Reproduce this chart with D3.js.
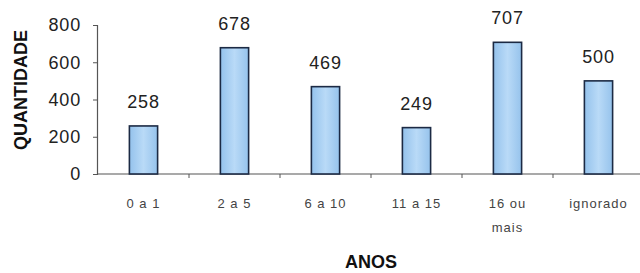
<!DOCTYPE html>
<html><head><meta charset="utf-8">
<script src="https://cdn.jsdelivr.net/npm/d3@7"></script>
<style>body{margin:0;background:#fff;}svg{display:block;font-family:"Liberation Sans",Arial,sans-serif;}</style>
</head><body>
<script>
const categories = ["0 a 1", "2 a 5", "6 a 10", "11 a 15", "16 ou mais", "ignorado"];
const values = [258, 678, 469, 249, 707, 500];
const yTicks = [0, 200, 400, 600, 800];

const W = 640, H = 273;
const svg = d3.select("body").append("svg").attr("width", W).attr("height", H);
const defs = svg.append("defs");
const g = defs.append("linearGradient").attr("id", "bg").attr("x1", 0).attr("x2", 1).attr("y1", 0).attr("y2", 0);
g.append("stop").attr("offset", "0%").attr("stop-color", "#94c2ec");
g.append("stop").attr("offset", "50%").attr("stop-color", "#b9daf7");
g.append("stop").attr("offset", "100%").attr("stop-color", "#96c3ec");

const x = d3.scaleBand().domain(categories).range([98, 644]).paddingInner(0.69).paddingOuter(0.345);
const y = d3.scaleLinear().domain([0, 800]).range([174, 25]);

// y axis
const ya = svg.append("g").attr("transform", "translate(97,0)")
  .call(d3.axisLeft(y).tickValues(yTicks).tickSize(4).tickPadding(12));
ya.select(".domain").attr("stroke", "#555").attr("stroke-width", 1.2);
ya.selectAll(".tick line").attr("stroke", "#555");
ya.selectAll(".tick text").attr("font-size", 18).attr("fill", "#222").attr("letter-spacing", 0.8)
  .attr("font-family", "'Liberation Sans',Arial,sans-serif");

// x axis
const step = x.step();
const xa = svg.append("g").attr("transform", "translate(0,174)");
xa.append("line").attr("x1", 97).attr("x2", 640).attr("y1", 0).attr("y2", 0).attr("stroke", "#555").attr("stroke-width", 1.2);
xa.selectAll("line.tk").data(categories.slice(1)).enter().append("line").attr("class", "tk")
  .attr("x1", d => x(d) - step * x.paddingInner() / 2).attr("x2", d => x(d) - step * x.paddingInner() / 2)
  .attr("y1", 0).attr("y2", 4).attr("stroke", "#555");

const labelLines = d => d === "16 ou mais" ? ["16 ou", "mais"] : [d];
xa.selectAll("text.cl").data(categories).enter().append("text").attr("class", "cl")
  .attr("text-anchor", "middle").attr("font-size", 13).attr("fill", "#444").attr("letter-spacing", 1)
  .attr("x", d => x(d) + x.bandwidth() / 2)
  .each(function (d) {
    const t = d3.select(this);
    labelLines(d).forEach((ln, i) => t.append("tspan").attr("x", x(d) + x.bandwidth() / 2).attr("y", 34 + i * 24).text(ln));
  });

// bars
svg.selectAll("rect.bar").data(values).enter().append("rect").attr("class", "bar")
  .attr("x", (d, i) => x(categories[i]))
  .attr("width", x.bandwidth())
  .attr("y", d => y(d))
  .attr("height", d => y(0) - y(d))
  .attr("fill", "url(#bg)").attr("stroke", "#1c2a44").attr("stroke-width", 1.6);

// value labels
svg.selectAll("text.val").data(values).enter().append("text").attr("class", "val")
  .attr("x", (d, i) => x(categories[i]) + x.bandwidth() / 2)
  .attr("y", d => y(d) - 18)
  .attr("text-anchor", "middle").attr("font-size", 18).attr("letter-spacing", 0.8).attr("fill", "#222").text(d => d);

// axis titles
svg.append("text").attr("x", 371).attr("y", 268).attr("text-anchor", "middle")
  .attr("font-size", 18).attr("font-weight", "bold").attr("fill", "#111").text("ANOS");
svg.append("text").attr("transform", "translate(27,90) rotate(-90)").attr("text-anchor", "middle")
  .attr("font-size", 18).attr("font-weight", "bold").attr("fill", "#111").text("QUANTIDADE");
</script>
</body></html>
